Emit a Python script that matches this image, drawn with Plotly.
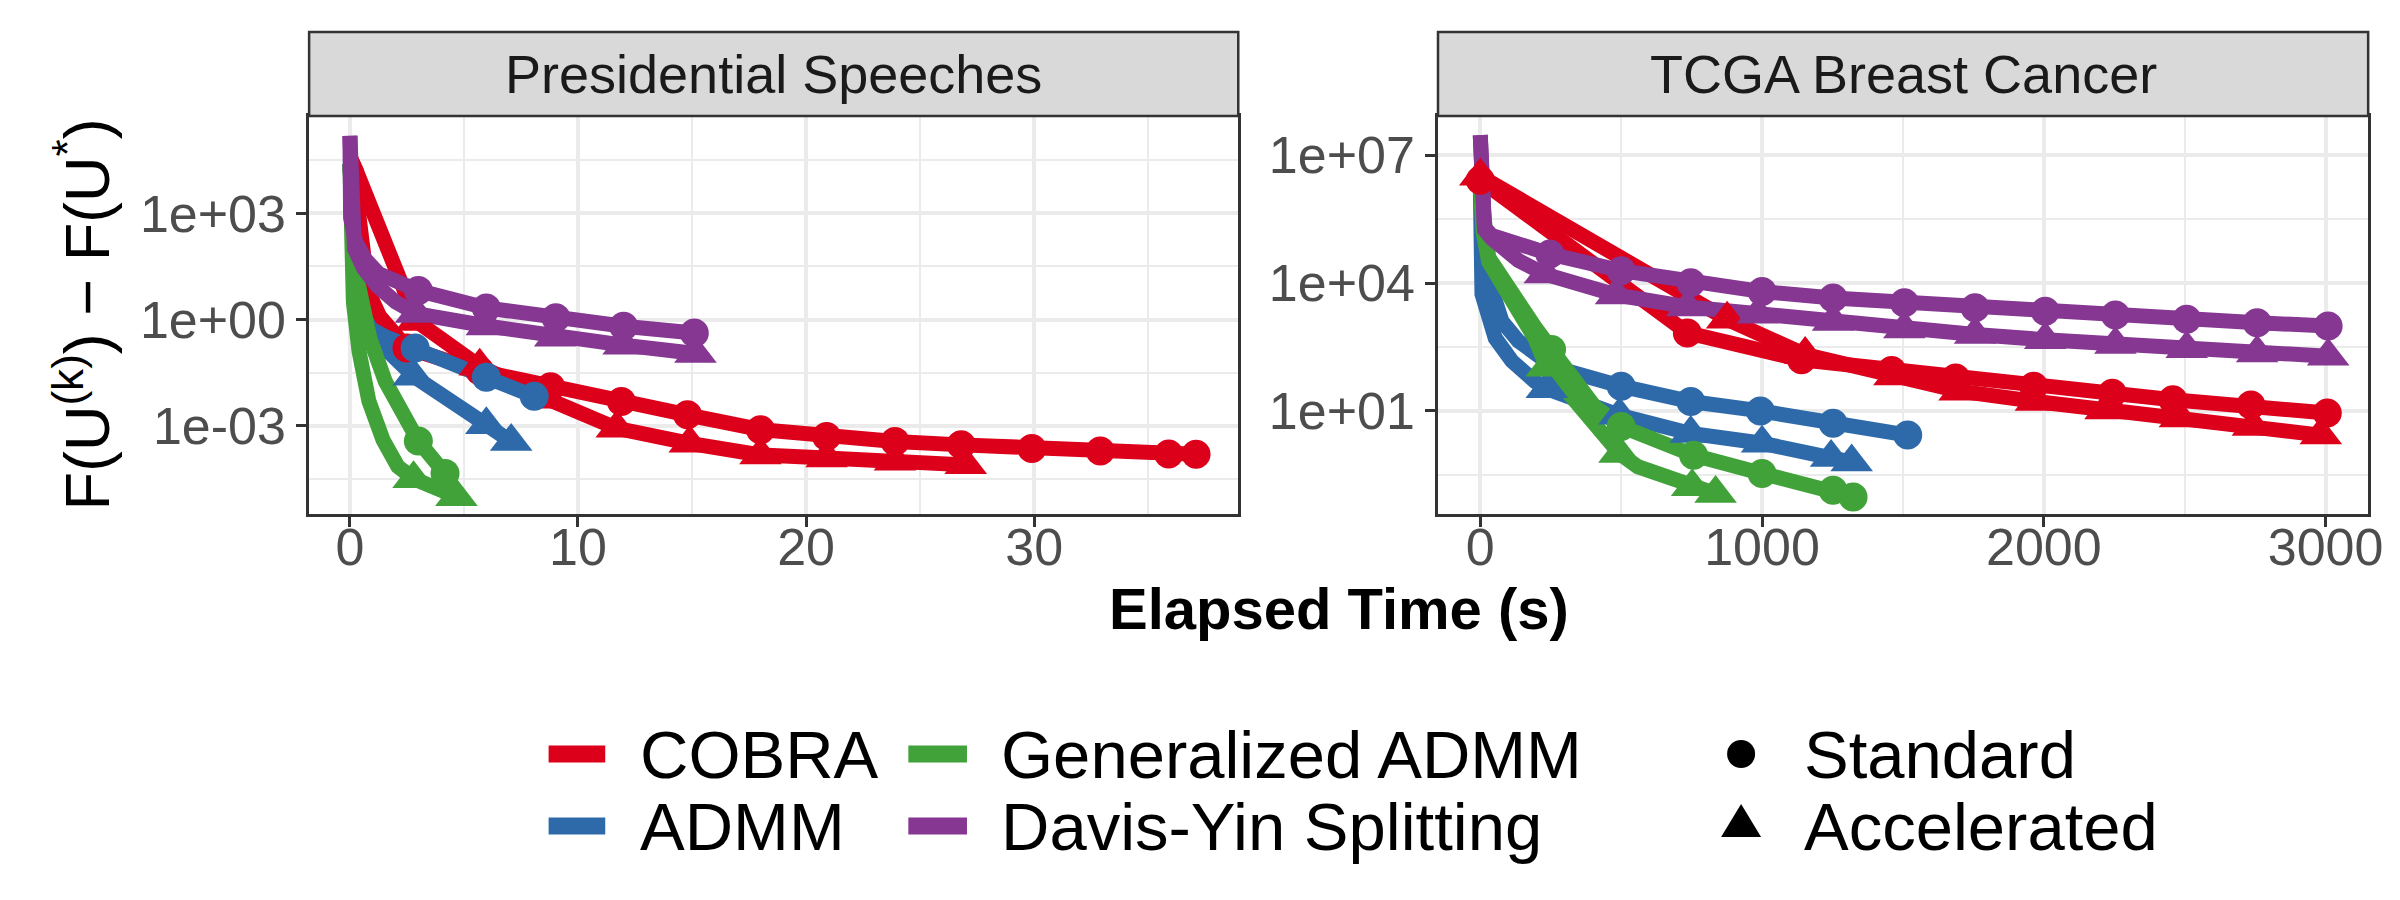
import plotly.graph_objects as go

FONT = "Liberation Sans"
W, H = 2400, 900

# ---------------- Presidential Speeches (elapsed time in s, F(U^k)-F(U*)) ----------------
PS_COBRA_STD_T = [0, 0.28, 0.4, 0.6, 0.8, 1.3, 2.0, 2.5, 5.7, 8.8, 11.9, 14.8, 18.0, 20.9, 23.9, 26.8, 29.9, 32.9, 35.9, 37.1]
PS_COBRA_STD_Y = [3.98e4, 1.58e4, 794, 20, 6.3, 1.26, 0.355, 0.158, 0.0355, 0.0126, 0.0049, 0.00204,
                  7.8e-4, 5.0e-4, 3.6e-4, 2.9e-4, 2.3e-4, 1.95e-4, 1.6e-4, 1.58e-4]
PS_COBRA_STD_M = list(range(7, 20))
PS_COBRA_ACC_T = [0, 0.28, 2.93, 5.69, 8.7, 11.7, 14.9, 18.0, 20.9, 23.9, 27.0]
PS_COBRA_ACC_Y = [3.98e4, 1.58e4, 0.89, 0.048, 0.0056, 8.5e-4, 3.2e-4, 1.5e-4, 1.23e-4, 1.0e-4, 7.9e-5]
PS_COBRA_ACC_M = list(range(2, 11))

PS_ADMM_STD_T = [0, 0.1, 0.25, 0.54, 0.9, 1.6, 2.86, 5.98, 8.08]
PS_ADMM_STD_Y = [2.5e4, 316, 15.8, 1.55, 0.56, 0.316, 0.158, 0.0234, 0.0068]
PS_ADMM_STD_M = [6, 7, 8]
PS_ADMM_ACC_T = [0, 0.1, 0.25, 0.54, 0.9, 1.6, 2.79, 5.98, 7.07]
PS_ADMM_ACC_Y = [2.5e4, 251, 12.6, 1.26, 0.447, 0.141, 0.0251, 0.00107, 3.6e-4]
PS_ADMM_ACC_M = [6, 7, 8]

PS_GADMM_STD_T = [0, 0.05, 0.2, 0.4, 0.87, 1.55, 2.28, 3.0, 4.17]
PS_GADMM_STD_Y = [2.5e4, 316, 25, 7.9, 0.30, 0.018, 0.00204, 3.7e-4, 4.5e-5]
PS_GADMM_STD_M = [7, 8]
PS_GADMM_ACC_T = [0, 0.05, 0.15, 0.4, 0.83, 1.45, 2.1, 2.79, 4.67]
PS_GADMM_ACC_Y = [2.5e4, 100, 3.16, 0.126, 0.005, 4.0e-4, 7.1e-5, 3.2e-5, 1.0e-5]
PS_GADMM_ACC_M = [7, 8]

PS_DYS_STD_T = [0, 0.03, 0.25, 0.68, 1.26, 2.28, 3.0, 5.98, 9.03, 12.0, 15.1]
PS_DYS_STD_Y = [1.55e5, 759, 158, 50, 20, 8.9, 6.6, 2.14, 1.12, 0.65, 0.42]
PS_DYS_STD_M = [6, 7, 8, 9, 10]
PS_DYS_ACC_T = [0, 0.03, 0.2, 0.6, 1.2, 2.0, 2.9, 6.0, 9.0, 12.0, 15.15]
PS_DYS_ACC_Y = [1.55e5, 759, 100, 28, 8.9, 3.16, 1.48, 0.66, 0.316, 0.19, 0.11]
PS_DYS_ACC_M = [6, 7, 8, 9, 10]

# ---------------- TCGA Breast Cancer ----------------
TC_COBRA_STD_T = [0, 735, 1140, 1460, 1687, 1964, 2243, 2458, 2735, 3006]
TC_COBRA_STD_Y = [2.6e6, 676, 158, 89, 59, 38, 26, 18.2, 13.8, 8.9]
TC_COBRA_STD_M = list(range(0, 10))
TC_COBRA_ACC_T = [0, 876, 1153, 1470, 1701, 1972, 2219, 2483, 2742, 2983]
TC_COBRA_ACC_Y = [3.2e6, 1413, 209, 66, 29, 16.6, 10.5, 6.8, 4.3, 2.7]
TC_COBRA_ACC_M = list(range(0, 10))

TC_ADMM_STD_T = [0, 10, 27, 77, 135, 218, 312, 500, 747, 994, 1252, 1517]
TC_ADMM_STD_Y = [2.0e6, 6.3e4, 1.35e4, 1259, 437, 174, 85, 38, 16.6, 10, 5.1, 2.7]
TC_ADMM_STD_M = [7, 8, 9, 10, 11]
TC_ADMM_ACC_T = [0, 3, 6, 53, 112, 194, 236, 494, 747, 1000, 1245, 1318]
TC_ADMM_ACC_Y = [2.0e6, 6.3e4, 5500, 513, 148, 49, 33, 7.9, 2.95, 1.74, 0.81, 0.63]
TC_ADMM_ACC_M = [6, 7, 8, 9, 10, 11]

TC_GADMM_STD_T = [0, 10, 30, 77, 135, 194, 253, 347, 406, 500, 757, 1000, 1252, 1323]
TC_GADMM_STD_Y = [2.0e6, 2.0e5, 3.98e4, 1.35e4, 3162, 933, 275, 35, 12.6, 4.3, 0.91, 0.34, 0.138, 0.095]
TC_GADMM_STD_M = [6, 9, 10, 11, 12, 13]
TC_GADMM_ACC_T = [0, 10, 30, 77, 135, 194, 236, 494, 559, 752, 835]
TC_GADMM_ACC_Y = [2.0e6, 1.58e5, 3.16e4, 1.0e4, 2239, 501, 105, 1.0, 0.49, 0.166, 0.115]
TC_GADMM_ACC_M = [6, 7, 9, 10]

TC_DYS_STD_T = [0, 15, 40, 100, 171, 247, 500, 747, 1000, 1252, 1505, 1756, 2005, 2254, 2507, 2757, 3009]
TC_DYS_STD_Y = [2.95e7, 2.0e5, 1.32e5, 9.5e4, 6.9e4, 4.8e4, 1.95e4, 1.02e4, 6300, 4470, 3470, 2630,
                2190, 1780, 1410, 1175, 977]
TC_DYS_STD_M = list(range(5, 17))
TC_DYS_ACC_T = [0, 15, 40, 77, 135, 229, 482, 735, 985, 1252, 1505, 1756, 2005, 2254, 2507, 2757, 3009]
TC_DYS_ACC_Y = [2.95e7, 1.78e5, 1.12e5, 6.9e4, 3.4e4, 1.62e4, 5250, 2750, 1860, 1260, 832, 617,
                468, 363, 288, 229, 191]
TC_DYS_ACC_M = list(range(5, 17))

METHODS = ["COBRA", "ADMM", "Generalized ADMM", "Davis-Yin Splitting"]
COLORS = {"COBRA": "#DC001B", "ADMM": "#2E6AA9", "Generalized ADMM": "#41A23A",
          "Davis-Yin Splitting": "#853792"}
VARIANTS = ["Standard", "Accelerated"]
SYMBOLS = {"Standard": "circle", "Accelerated": "triangle-up"}
SIZES = {"Standard": 29, "Accelerated": 37}

PANELS = [
    ("Presidential Speeches", "x", "y", {
        ("COBRA", "Standard"): (PS_COBRA_STD_T, PS_COBRA_STD_Y, PS_COBRA_STD_M),
        ("COBRA", "Accelerated"): (PS_COBRA_ACC_T, PS_COBRA_ACC_Y, PS_COBRA_ACC_M),
        ("ADMM", "Standard"): (PS_ADMM_STD_T, PS_ADMM_STD_Y, PS_ADMM_STD_M),
        ("ADMM", "Accelerated"): (PS_ADMM_ACC_T, PS_ADMM_ACC_Y, PS_ADMM_ACC_M),
        ("Generalized ADMM", "Standard"): (PS_GADMM_STD_T, PS_GADMM_STD_Y, PS_GADMM_STD_M),
        ("Generalized ADMM", "Accelerated"): (PS_GADMM_ACC_T, PS_GADMM_ACC_Y, PS_GADMM_ACC_M),
        ("Davis-Yin Splitting", "Standard"): (PS_DYS_STD_T, PS_DYS_STD_Y, PS_DYS_STD_M),
        ("Davis-Yin Splitting", "Accelerated"): (PS_DYS_ACC_T, PS_DYS_ACC_Y, PS_DYS_ACC_M),
    }),
    ("TCGA Breast Cancer", "x2", "y2", {
        ("COBRA", "Standard"): (TC_COBRA_STD_T, TC_COBRA_STD_Y, TC_COBRA_STD_M),
        ("COBRA", "Accelerated"): (TC_COBRA_ACC_T, TC_COBRA_ACC_Y, TC_COBRA_ACC_M),
        ("ADMM", "Standard"): (TC_ADMM_STD_T, TC_ADMM_STD_Y, TC_ADMM_STD_M),
        ("ADMM", "Accelerated"): (TC_ADMM_ACC_T, TC_ADMM_ACC_Y, TC_ADMM_ACC_M),
        ("Generalized ADMM", "Standard"): (TC_GADMM_STD_T, TC_GADMM_STD_Y, TC_GADMM_STD_M),
        ("Generalized ADMM", "Accelerated"): (TC_GADMM_ACC_T, TC_GADMM_ACC_Y, TC_GADMM_ACC_M),
        ("Davis-Yin Splitting", "Standard"): (TC_DYS_STD_T, TC_DYS_STD_Y, TC_DYS_STD_M),
        ("Davis-Yin Splitting", "Accelerated"): (TC_DYS_ACC_T, TC_DYS_ACC_Y, TC_DYS_ACC_M),
    }),
]

PS_XTICKS = [0, 10, 20, 30]
PS_XMINOR = [5, 15, 25, 35]
PS_YTICKS = [1e-3, 1e0, 1e3]
PS_YTICKTEXT = ["1e-03", "1e+00", "1e+03"]
PS_YMINOR = [10 ** -4.5, 10 ** -1.5, 10 ** 1.5, 10 ** 4.5]
TC_XTICKS = [0, 1000, 2000, 3000]
TC_XMINOR = [500, 1500, 2500]
TC_YTICKS = [1e1, 1e4, 1e7]
TC_YTICKTEXT = ["1e+01", "1e+04", "1e+07"]
TC_YMINOR = [10 ** -0.5, 10 ** 2.5, 10 ** 5.5]

fig = go.Figure()

# lines first (all series), then points on top
for title, xa, ya, series in PANELS:
    for m in METHODS:
        for v in VARIANTS:
            t, y, _ = series[(m, v)]
            fig.add_trace(go.Scatter(x=t, y=y, mode="lines", xaxis=xa, yaxis=ya,
                                     line=dict(color=COLORS[m], width=15),
                                     showlegend=False, hoverinfo="skip",
                                     name=f"{m} ({v})"))
for title, xa, ya, series in PANELS:
    for m in METHODS:
        for v in VARIANTS:
            t, y, idx = series[(m, v)]
            fig.add_trace(go.Scatter(x=[t[i] for i in idx], y=[y[i] for i in idx],
                                     mode="markers", xaxis=xa, yaxis=ya,
                                     marker=dict(color=COLORS[m], symbol=SYMBOLS[v],
                                                 size=SIZES[v], line=dict(width=0)),
                                     showlegend=False, name=f"{m} ({v})"))

# ---- layout geometry (pixels in a 2400x900 canvas) ----
def px(x):
    return x / W

def py(y):
    return 1 - y / H

L_DOM = [px(303), px(1238)]
R_DOM = [px(1439), px(2375)]
Y_DOM = [py(506), py(108)]

def axis_style():
    return dict(showline=True, mirror=True, linecolor="#333333", linewidth=2.5,
                ticks="outside", ticklen=10, tickwidth=2.5, tickcolor="#333333",
                tickfont=dict(family=FONT, size=52, color="#4D4D4D"),
                showgrid=True, gridcolor="#EBEBEB", gridwidth=4, zeroline=False)

def minor(vals):
    return dict(tickmode="array", tickvals=vals, showgrid=True, gridcolor="#EBEBEB",
                gridwidth=2, ticks="")

fig.update_layout(
    width=W, height=H, margin=dict(l=0, r=0, t=0, b=0),
    paper_bgcolor="white", plot_bgcolor="white",
    font=dict(family=FONT, color="black"),
    xaxis=dict(domain=L_DOM, anchor="y", range=[-1.79, 38.95], tickmode="array",
               tickvals=PS_XTICKS, minor=minor(PS_XMINOR), ticklabelstandoff=-24,
               **axis_style()),
    yaxis=dict(domain=Y_DOM, anchor="x", type="log", range=[-5.49, 5.75], tickmode="array",
               tickvals=PS_YTICKS, ticktext=PS_YTICKTEXT, minor=minor(PS_YMINOR), **axis_style()),
    xaxis2=dict(domain=R_DOM, anchor="y2", range=[-150, 3151], tickmode="array",
                tickvals=TC_XTICKS, minor=minor(TC_XMINOR), ticklabelstandoff=-24,
                **axis_style()),
    yaxis2=dict(domain=Y_DOM, anchor="x2", type="log", range=[-1.42, 7.92], tickmode="array",
                tickvals=TC_YTICKS, ticktext=TC_YTICKTEXT, minor=minor(TC_YMINOR), **axis_style()),
)

shapes = []
annotations = []
# facet strips
for (title, xa, ya, series), dom in zip(PANELS, [L_DOM, R_DOM]):
    shapes.append(dict(type="rect", xref="paper", yref="paper", x0=dom[0], x1=dom[1],
                       y0=py(108), y1=py(24), fillcolor="#D9D9D9",
                       line=dict(color="#333333", width=2.5), layer="above"))
    annotations.append(dict(text=title, xref="paper", yref="paper", x=(dom[0] + dom[1]) / 2,
                            y=py(66), xanchor="center", yanchor="middle", showarrow=False,
                            font=dict(family=FONT, size=54, color="#1A1A1A")))

# axis titles
annotations.append(dict(text="<b>Elapsed Time (s)</b>", xref="paper", yref="paper",
                        x=px(1339), y=py(600), xanchor="center", yanchor="middle",
                        showarrow=False, font=dict(family=FONT, size=58, color="black")))
annotations.append(dict(text="F(U<sup>(k)</sup>) \u2212 F(U<sup>*</sup>)", xref="paper",
                        yref="paper", x=px(74), y=py(307), xanchor="center", yanchor="middle",
                        textangle=-90, showarrow=False,
                        font=dict(family=FONT, size=63, color="black")))

# legend (colour keys + shape keys)
ROW_Y = [746, 818]
COLOR_COLS = [(544, 601, 634), (906, 965, 997)]
for i, m in enumerate(METHODS):
    col, row = divmod(i, 2)
    x0, x1, xt = COLOR_COLS[col]
    yc = ROW_Y[row]
    shapes.append(dict(type="rect", xref="paper", yref="paper", x0=px(x0), x1=px(x1),
                       y0=py(yc + 8.5), y1=py(yc - 8.5), fillcolor=COLORS[m],
                       line=dict(width=0)))
    annotations.append(dict(text=m, xref="paper", yref="paper", x=px(xt), y=py(yc),
                            xanchor="left", yanchor="middle", showarrow=False,
                            font=dict(family=FONT, size=67, color="black")))
SHAPE_X = 1744
shapes.append(dict(type="circle", xref="paper", yref="paper", xsizemode="pixel",
                   ysizemode="pixel", xanchor=px(SHAPE_X), yanchor=py(ROW_Y[0]),
                   x0=-14, x1=14, y0=-14, y1=14, fillcolor="black", line=dict(width=0)))
shapes.append(dict(type="path", xref="paper", yref="paper", xsizemode="pixel",
                   ysizemode="pixel", xanchor=px(SHAPE_X), yanchor=py(ROW_Y[1]),
                   path="M-20,-11L20,-11L0,22Z", fillcolor="black", line=dict(width=0)))
for v, yc in zip(VARIANTS, ROW_Y):
    annotations.append(dict(text=v, xref="paper", yref="paper", x=px(1805), y=py(yc),
                            xanchor="left", yanchor="middle", showarrow=False,
                            font=dict(family=FONT, size=67, color="black")))

fig.update_layout(shapes=shapes, annotations=annotations)
fig.write_html("out.html")
